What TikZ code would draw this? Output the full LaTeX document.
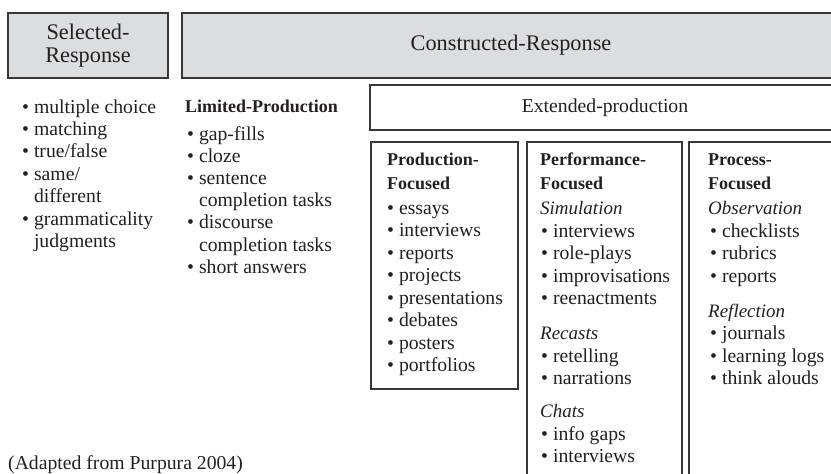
\documentclass[tikz,border=0pt]{standalone}
\usepackage{fontspec}
\setmainfont{Liberation Serif}
\definecolor{boxgray}{RGB}{220,221,222}
\definecolor{edge}{RGB}{55,55,55}
\definecolor{ink}{RGB}{35,31,32}
\tikzset{
  txt/.style={anchor=base west, inner sep=0pt, text=ink, font=\fontsize{19.7}{22.4}\selectfont},
  hd/.style={txt, font=\fontsize{18}{22}\selectfont\bfseries},
  sub/.style={txt, font=\fontsize{19}{22}\selectfont\itshape},
  graybox/.style={draw=edge, line width=1.3pt, fill=boxgray, inner sep=0pt, text=ink, align=center},
  panel/.style={draw=edge, line width=1.3pt, inner sep=0pt},
}
\begin{document}
\begin{tikzpicture}[x=1pt,y=-1pt]
\useasboundingbox (0,0) rectangle (831,474);
\clip (0,0) rectangle (831,474);
% top boxes
\node[graybox, minimum width=160pt, minimum height=65pt, font=\fontsize{22.3}{23}\selectfont] (sel) at (88,45.5) {Selected-\\Response};
\node[graybox, minimum width=658pt, minimum height=65pt, font=\fontsize{22.3}{23}\selectfont] (con) at (511,45.5) {Constructed-Response};
\node[panel, minimum width=470pt, minimum height=45pt, text=ink, font=\fontsize{19.7}{22.4}\selectfont] (ext) at (605,107.5) {Extended-production};
% panels
\node[panel, minimum width=147pt, minimum height=247pt] (prod) at (444.5,265.5) {};
\node[panel, minimum width=155pt, minimum height=348pt] (perf) at (604.5,316) {};
\node[panel, minimum width=161pt, minimum height=348pt] (proc) at (769.5,316) {};
% selected-response list
\node[txt] (sr1) at (22,113) {• multiple choice};
\node[txt] (sr2) at (22,135.4) {• matching};
\node[txt] (sr3) at (22,157.8) {• true/false};
\node[txt] (sr4) at (22,180.2) {• same/};
\node[txt] (sr5) at (22,202.6) {\phantom{• }different};
\node[txt] (sr6) at (22,225) {• grammaticality};
\node[txt] (sr7) at (22,247.4) {\phantom{• }judgments};
% limited production
\node[hd] (lph) at (185,112) {Limited-Production};
\node[txt] (lp1) at (187,140) {• gap-fills};
\node[txt] (lp2) at (187,162.2) {• cloze};
\node[txt] (lp3) at (187,184.4) {• sentence};
\node[txt] (lp4) at (187,206.6) {\phantom{• }completion tasks};
\node[txt] (lp5) at (187,228.8) {• discourse};
\node[txt] (lp6) at (187,251) {\phantom{• }completion tasks};
\node[txt] (lp7) at (187,273.2) {• short answers};
% production-focused
\node[hd] (pfh1) at (387,165) {Production-};
\node[hd] (pfh2) at (387,189) {Focused};
\node[txt] (pf1) at (387,214) {• essays};
\node[txt] (pf2) at (387,236.5) {• interviews};
\node[txt] (pf3) at (387,259) {• reports};
\node[txt] (pf4) at (387,281.5) {• projects};
\node[txt] (pf5) at (387,304) {• presentations};
\node[txt] (pf6) at (387,326.5) {• debates};
\node[txt] (pf7) at (387,349) {• posters};
\node[txt] (pf8) at (387,371.5) {• portfolios};
% performance-focused
\node[hd] (ph1) at (540,165) {Performance-};
\node[hd] (ph2) at (540,189) {Focused};
\node[sub] (ps1) at (540,214) {Simulation};
\node[txt] (pe1) at (541,237) {• interviews};
\node[txt] (pe2) at (541,259.5) {• role-plays};
\node[txt] (pe3) at (541,282) {• improvisations};
\node[txt] (pe4) at (541,304.5) {• reenactments};
\node[sub] (ps2) at (540,339.5) {Recasts};
\node[txt] (pe5) at (541,362) {• retelling};
\node[txt] (pe6) at (541,384.5) {• narrations};
\node[sub] (ps3) at (540,417.5) {Chats};
\node[txt] (pe7) at (541,440) {• info gaps};
\node[txt] (pe8) at (541,462.5) {• interviews};
% process-focused
\node[hd] (rh1) at (708,165) {Process-};
\node[hd] (rh2) at (708,189) {Focused};
\node[sub] (rs1) at (708,214) {Observation};
\node[txt] (re1) at (710,237) {• checklists};
\node[txt] (re2) at (710,259.5) {• rubrics};
\node[txt] (re3) at (710,282) {• reports};
\node[sub] (rs2) at (708,317) {Reflection};
\node[txt] (re4) at (710,339.5) {• journals};
\node[txt] (re5) at (710,362) {• learning logs};
\node[txt] (re6) at (710,384.5) {• think alouds};
% source
\node[txt] (src) at (8,469) {(Adapted from Purpura 2004)};
\end{tikzpicture}
\end{document}
